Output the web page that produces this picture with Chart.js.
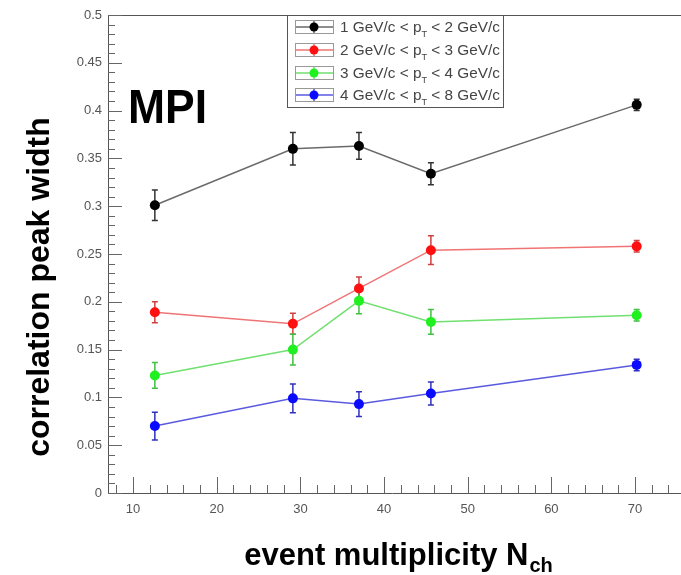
<!DOCTYPE html>
<html>
<head>
<meta charset="utf-8">
<script src="https://cdn.jsdelivr.net/npm/chart.js@4"></script>
<style>
  html, body { margin: 0; padding: 0; background: #fff; }
  #chart { display: block; }
</style>
</head>
<body>
<canvas id="chart" width="681" height="575"></canvas>
<script>
// multiplicity bins (x) and peak widths per pT bin
const multiplicity = [12.6, 29.1, 37.0, 45.6, 70.2];

const width1 = [0.301, 0.360, 0.363, 0.334, 0.406];
const err1 = [0.016, 0.017, 0.014, 0.0115, 0.006];
const width2 = [0.189, 0.177, 0.214, 0.254, 0.258];
const err2 = [0.011, 0.011, 0.012, 0.015, 0.006];
const width3 = [0.123, 0.150, 0.201, 0.179, 0.186];
const err3 = [0.0135, 0.016, 0.0135, 0.013, 0.006];
const width4 = [0.070, 0.099, 0.093, 0.104, 0.134];
const err4 = [0.0145, 0.015, 0.013, 0.012, 0.006];

const ptLow = [1, 2, 3, 4];
const ptHigh = [2, 3, 4, 8];

const xTicks = [10, 20, 30, 40, 50, 60, 70];
const yTicks = [0, 0.05, 0.1, 0.15, 0.2, 0.25, 0.3, 0.35, 0.4, 0.45, 0.5];
const yTickLabels = ["0", "0.05", "0.1", "0.15", "0.2", "0.25", "0.3", "0.35", "0.4", "0.45", "0.5"];

const FONT = "'Liberation Sans', Arial, Helvetica, sans-serif";

// couleurs façon ROOT : ligne plus claire, marqueur plein
const lineColors = ["#6a6a6a", "#f07474", "#70e070", "#5a5ae0"];
const markerColors = ["#000000", "#ff1010", "#20f020", "#0a0aff"];
const errColors = ["#333333", "#d04040", "#40c040", "#3030c0"];

const widths = [width1, width2, width3, width4];
const errors = [err1, err2, err3, err4];

function toPoints(values) {
    return multiplicity.map((m, i) => ({ x: m, y: values[i] }));
}

// barres d'erreur, dessinées sous les marqueurs
const errorBars = {
    id: "errorBars",
    beforeDatasetsDraw(chart) {
        const ctx = chart.ctx;
        const y = chart.scales.y;
        ctx.save();
        ctx.lineWidth = 1.5;
        widths.forEach((vals, i) => {
            const meta = chart.getDatasetMeta(i);
            ctx.strokeStyle = errColors[i];
            meta.data.forEach((pt, j) => {
                const top = y.getPixelForValue(vals[j] + errors[i][j]);
                const bot = y.getPixelForValue(vals[j] - errors[i][j]);
                ctx.beginPath();
                ctx.moveTo(pt.x, top); ctx.lineTo(pt.x, bot);
                ctx.moveTo(pt.x - 3, top); ctx.lineTo(pt.x + 3, top);
                ctx.moveTo(pt.x - 3, bot); ctx.lineTo(pt.x + 3, bot);
                ctx.stroke();
            });
        });
        ctx.restore();
    }
};

// cadre, petites graduations, légende et titres
const decorations = {
    id: "decorations",
    afterDraw(chart) {
        const ctx = chart.ctx;
        const area = chart.chartArea;
        const xs = chart.scales.x;
        const ys = chart.scales.y;
        ctx.save();

        // cadre du haut
        ctx.strokeStyle = "#555";
        ctx.lineWidth = 1;
        ctx.beginPath();
        ctx.moveTo(area.left, area.top + 0.5);
        ctx.lineTo(chart.width, area.top + 0.5);
        ctx.moveTo(area.right, area.bottom + 0.5);
        ctx.lineTo(chart.width, area.bottom + 0.5);
        ctx.stroke();

        // graduations vers l'intérieur
        ctx.strokeStyle = "#666";
        ctx.beginPath();
        for (let k = 0; k <= 50; k++) {
            const py = Math.round(ys.getPixelForValue(k / 100)) + 0.5;
            const len = k % 5 === 0 ? 14 : 7;
            ctx.moveTo(area.left, py);
            ctx.lineTo(area.left + len, py);
        }
        for (let v = 8; v <= 74; v += 2) {
            const px = Math.round(xs.getPixelForValue(v)) + 0.5;
            const len = v % 10 === 0 ? 16 : 8;
            ctx.moveTo(px, area.bottom);
            ctx.lineTo(px, area.bottom - len);
        }
        ctx.stroke();

        // légende
        const bx = 287, by = 15, bw = 216, bh = 92;
        ctx.fillStyle = "#fff";
        ctx.fillRect(bx, by, bw, bh);
        ctx.strokeStyle = "#555";
        ctx.strokeRect(bx + 0.5, by + 0.5, bw, bh);
        const rows = [27, 50, 73, 95];
        rows.forEach((ry, i) => {
            ctx.strokeStyle = "#999";
            ctx.lineWidth = 1;
            ctx.strokeRect(295.5, ry - 6.5, 38, 13);
            ctx.strokeStyle = lineColors[i];
            ctx.lineWidth = 1.5;
            ctx.beginPath();
            ctx.moveTo(296, ry); ctx.lineTo(333, ry);
            ctx.moveTo(314, ry - 6); ctx.lineTo(314, ry + 6);
            ctx.stroke();
            ctx.fillStyle = markerColors[i];
            ctx.beginPath();
            ctx.arc(314, ry, 4.5, 0, Math.PI * 2);
            ctx.fill();

            // texte avec indice T
            const a = ptLow[i] + " GeV/c < p";
            const b = " < " + ptHigh[i] + " GeV/c";
            ctx.font = "15px " + FONT;
            const wa = ctx.measureText(a).width;
            const wb = ctx.measureText(b).width;
            ctx.font = "9px " + FONT;
            const wt = ctx.measureText("T").width;
            const total = wa + wt + wb;
            const sx = 160 / total;
            ctx.save();
            ctx.translate(340, ry + 5);
            ctx.scale(sx, 1);
            ctx.fillStyle = "#444";
            ctx.textBaseline = "alphabetic";
            ctx.textAlign = "left";
            ctx.font = "15px " + FONT;
            ctx.fillText(a, 0, 0);
            ctx.font = "9px " + FONT;
            ctx.fillText("T", wa, 5);
            ctx.font = "15px " + FONT;
            ctx.fillText(b, wa + wt, 0);
            ctx.restore();
        });

        // MPI
        ctx.fillStyle = "#000";
        ctx.textAlign = "left";
        ctx.textBaseline = "alphabetic";
        ctx.font = "bold 48px " + FONT;
        ctx.fillText("MPI", 128, 123, 79);

        // titre de l'axe y
        ctx.save();
        ctx.translate(40, 287);
        ctx.rotate(-Math.PI / 2);
        ctx.textAlign = "center";
        ctx.textBaseline = "middle";
        ctx.font = "bold 32px " + FONT;
        ctx.fillText("correlation peak width", 0, 0);
        ctx.restore();

        // titre de l'axe x avec indice ch
        ctx.font = "bold 31px " + FONT;
        const main = "event multiplicity N";
        const wm = ctx.measureText(main).width;
        ctx.font = "bold 20px " + FONT;
        const ws = ctx.measureText("ch").width;
        const x0 = 398 - (wm + ws) / 2;
        ctx.textAlign = "left";
        ctx.font = "bold 31px " + FONT;
        ctx.fillText(main, x0, 565);
        ctx.font = "bold 20px " + FONT;
        ctx.fillText("ch", x0 + wm + 1, 572);

        ctx.restore();
    }
};

const ctx = document.getElementById("chart").getContext("2d");

new Chart(ctx, {
    type: "line",
    data: {
        datasets: widths.map((vals, i) => ({
            label: ptLow[i] + " GeV/c < pT < " + ptHigh[i] + " GeV/c",
            data: toPoints(vals),
            borderColor: lineColors[i],
            borderWidth: 1.5,
            backgroundColor: markerColors[i],
            pointBackgroundColor: markerColors[i],
            pointBorderColor: markerColors[i],
            pointRadius: 5,
            pointBorderWidth: 0,
            tension: 0,
            fill: false
        }))
    },
    options: {
        responsive: false,
        animation: false,
        devicePixelRatio: 1,
        layout: { padding: { top: 15, right: 1, left: 0, bottom: 0 } },
        plugins: {
            legend: { display: false },
            tooltip: { enabled: false }
        },
        scales: {
            x: {
                type: "linear",
                min: 7,
                max: 74.9,
                grid: { display: true, drawOnChartArea: false, drawTicks: false },
                border: { display: true, color: "#555", width: 1 },
                ticks: {
                    color: "#555",
                    padding: 9,
                    font: { size: 13, family: FONT },
                    maxRotation: 0
                },
                afterBuildTicks: s => { s.ticks = xTicks.map(v => ({ value: v })); },
                afterFit: s => { s.height = 82; s.paddingLeft = 0; s.paddingRight = 0; }
            },
            y: {
                type: "linear",
                min: 0,
                max: 0.5,
                grid: { display: true, drawOnChartArea: false, drawTicks: false },
                border: { display: true, color: "#555", width: 1 },
                ticks: {
                    color: "#555",
                    padding: 6,
                    font: { size: 13, family: FONT },
                    callback: (v, i) => yTickLabels[i]
                },
                afterBuildTicks: s => { s.ticks = yTicks.map(v => ({ value: v })); },
                afterFit: s => { s.width = 108; s.paddingTop = 0; s.paddingBottom = 0; }
            }
        }
    },
    plugins: [errorBars, decorations]
});
</script>
</body>
</html>
